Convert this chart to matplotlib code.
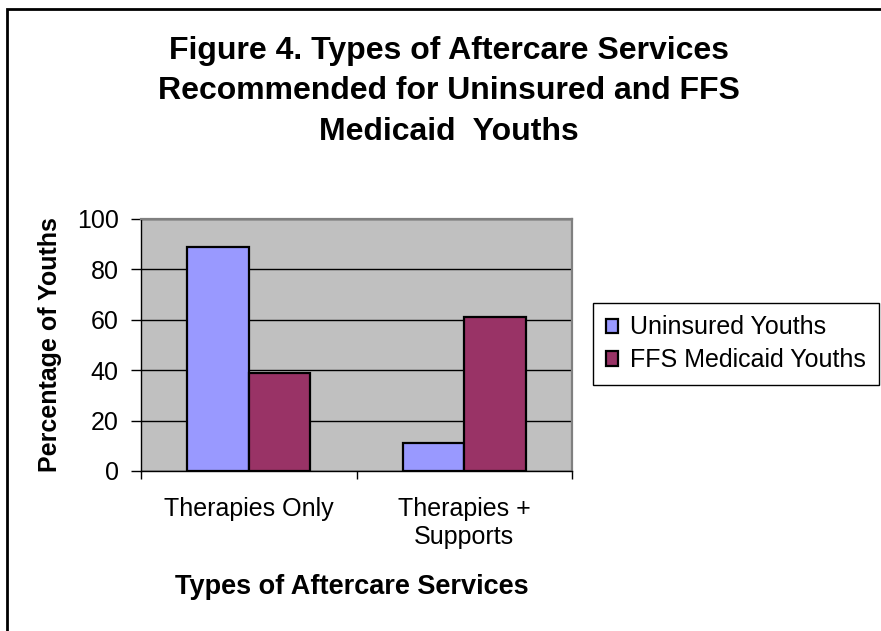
import matplotlib
matplotlib.use("Agg")
import matplotlib.pyplot as plt
import numpy as np
from matplotlib.patches import Rectangle

# data
categories = ["Therapies Only", "Therapies +\nSupports"]
series_names = ["Uninsured Youths", "FFS Medicaid Youths"]
uninsured = [89, 11]
ffs_medicaid = [39, 61]
yticks = [0, 20, 40, 60, 80, 100]

plt.rcParams["font.family"] = ["Liberation Sans", "DejaVu Sans"]

fig = plt.figure(figsize=(8.81, 6.31), dpi=100)
fig.patch.set_facecolor("white")

W, H = 881, 631
ax = fig.add_axes([141 / W, 1 - 471 / H, (572 - 141) / W, (471 - 219) / H])
ax.set_facecolor("#C0C0C0")

x = np.arange(len(categories))
w = 1 / 3.5
ax.bar(x - w / 2, uninsured, w, color="#9999FF", edgecolor="black",
       linewidth=1.6, label=series_names[0], zorder=3)
ax.bar(x + w / 2, ffs_medicaid, w, color="#993366", edgecolor="black",
       linewidth=1.6, label=series_names[1], zorder=3)

ax.set_xlim(-0.5, len(categories) - 0.5)
ax.set_ylim(0, 100)
ax.set_yticks(yticks)
ax.yaxis.grid(True, color="black", linewidth=1, zorder=1)
ax.set_axisbelow(True)

ax.set_xticks(x)
ax.set_xticklabels(categories, fontsize=18, linespacing=1.2)
ax.set_xticks(np.arange(len(categories) + 1) - 0.5, minor=True)
ax.tick_params(axis="x", which="major", length=0, pad=19)
ax.tick_params(axis="x", which="minor", length=6, width=1, direction="out")
ax.tick_params(axis="y", labelsize=18, length=7, width=1, pad=9, direction="out")

for s in ["top", "right"]:
    ax.spines[s].set_color("#808080")
    ax.spines[s].set_linewidth(1.6)
for s in ["left", "bottom"]:
    ax.spines[s].set_color("black")
    ax.spines[s].set_linewidth(1)

fig.text(449 / W, 1 - 36 / H,
         "Figure 4. Types of Aftercare Services\n"
         "Recommended for Uninsured and FFS\n"
         "Medicaid  Youths",
         ha="center", va="top", fontsize=23, fontweight="bold", linespacing=1.45)

fig.text(352 / W, 1 - 594 / H, "Types of Aftercare Services",
         ha="center", va="baseline", fontsize=19.5, fontweight="bold")
fig.text(50 / W, 1 - 345 / H, "Percentage of Youths", rotation=90,
         ha="center", va="center", fontsize=18, fontweight="bold")

leg = fig.legend(loc="upper left", bbox_to_anchor=(593 / W, 1 - 303 / H),
                 fontsize=18, handlelength=0.5, handleheight=0.5,
                 handletextpad=0.5, labelspacing=0.35, borderpad=0.5,
                 borderaxespad=0, fancybox=False, shadow=False, framealpha=1)
leg.get_frame().set_edgecolor("black")
leg.get_frame().set_linewidth(1)

# outer chart border (only top and left visible)
fig.patches.append(Rectangle((7 / W, -0.1), 1.2, 1 - 9 / H + 0.1,
                             transform=fig.transFigure, fill=False,
                             edgecolor="black", linewidth=2, clip_on=False))

fig.savefig("out.png", dpi=100)
